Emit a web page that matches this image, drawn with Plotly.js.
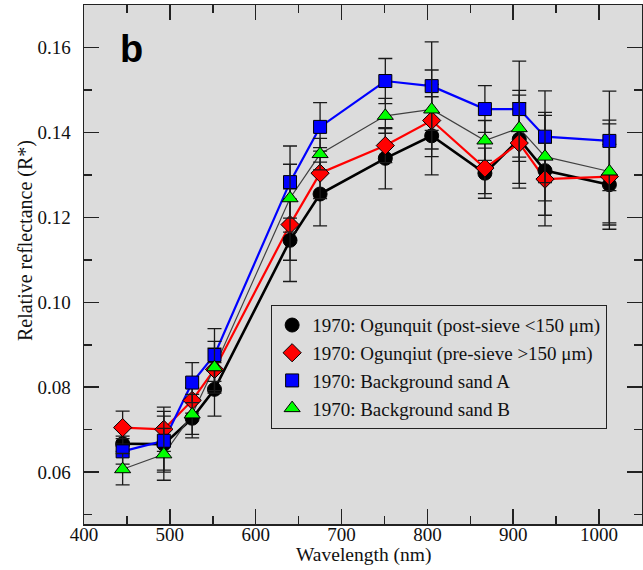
<!DOCTYPE html>
<html>
<head>
<meta charset="utf-8">
<script src="https://cdn.plot.ly/plotly-3.0.1.min.js"></script>
<style>html,body{margin:0;padding:0;background:#fff;}#chart{width:643px;height:570px;}</style>
</head>
<body>
<div id="chart"></div>
<script>
// Wavelengths (nm)
const wavelength = [445, 493, 526, 552, 640, 675, 751, 805, 867, 907, 937, 1012];

// Series values (relative reflectance R*) and symmetric errors
const postSieve    = [0.0667, 0.0666, 0.0727, 0.0795, 0.1146, 0.1255, 0.1339, 0.1392, 0.1304, 0.1384, 0.1310, 0.1277];
const postSieveErr = [0.0018, 0.0066, 0.0046, 0.0063, 0.0097, 0.0075, 0.0072, 0.0092, 0.0059, 0.0115, 0.0130, 0.0095];

const preSieve     = [0.0705, 0.0701, 0.0769, 0.0842, 0.1183, 0.1304, 0.1369, 0.1428, 0.1316, 0.1375, 0.1290, 0.1296];
const preSieveErr  = [0.0039, 0.0052, 0.0030, 0.0050, 0.0084, 0.0060, 0.0040, 0.0085, 0.0060, 0.0095, 0.0085, 0.0124];

const sandA        = [0.0649, 0.0674, 0.0811, 0.0876, 0.1283, 0.1413, 0.1521, 0.1509, 0.1455, 0.1455, 0.1390, 0.1380];
const sandAErr     = [0.0030, 0.0069, 0.0047, 0.0062, 0.0085, 0.0057, 0.0053, 0.0104, 0.0055, 0.0113, 0.0108, 0.0117];

const sandB        = [0.0607, 0.0642, 0.0736, 0.0847, 0.1245, 0.1349, 0.1439, 0.1454, 0.1381, 0.1410, 0.1343, 0.1308];
const sandBErr     = [0.0037, 0.0061, 0.0047, 0.0061, 0.0080, 0.0037, 0.0041, 0.0093, 0.0047, 0.0078, 0.0104, 0.0121];

const seriesNames = [
  "1970: Ogunquit (post-sieve <150 μm)",
  "1970: Ogunqiut (pre-sieve >150 μm)",
  "1970: Background sand A",
  "1970: Background sand B"
];
const xTickVals = [400, 500, 600, 700, 800, 900, 1000];
const yTickVals = [0.06, 0.08, 0.10, 0.12, 0.14, 0.16];

const series = [
  {y: postSieve, e: postSieveErr, name: seriesNames[0], lc: "#000000", lw: 2.6, sym: "circle", fill: "#000000", size: 14},
  {y: preSieve,  e: preSieveErr,  name: seriesNames[1], lc: "#ff0000", lw: 2.2, sym: "diamond", fill: "#ff0000", size: 14},
  {y: sandA,     e: sandAErr,     name: seriesNames[2], lc: "#0000ff", lw: 2.2, sym: "square", fill: "#0000ff", size: 13},
  {y: sandB,     e: sandBErr,     name: seriesNames[3], lc: "#404040", lw: 1.2, sym: "triangle-up", fill: "#00ff00", size: 14}
];

const traces = [];
series.forEach(s => {
  traces.push({
    x: wavelength, y: s.y, type: "scatter", mode: "lines",
    line: {color: s.lc, width: s.lw}, showlegend: false, hoverinfo: "skip"
  });
});
series.forEach(s => {
  traces.push({
    x: wavelength, y: s.y, type: "scatter", mode: "markers", name: s.name,
    marker: {symbol: s.sym, color: s.fill, size: s.size, line: {color: "#000", width: 1}},
    error_y: {type: "data", array: s.e, visible: true, color: "#1a1a1a", thickness: 1.3, width: 7}
  });
});

const SERIF = "Liberation Serif, serif";

const layout = {
  width: 643, height: 570,
  margin: {l: 84, r: 1, t: 5, b: 46},
  paper_bgcolor: "#ffffff", plot_bgcolor: "#dcdcdc",
  font: {family: SERIF, color: "#111"},
  showlegend: true,
  xaxis: {
    showline: true, mirror: "ticks", linecolor: "#222", linewidth: 1.5,
    ticks: "inside", tickcolor: "#222", tickwidth: 1.5, ticklen: 15,
    showgrid: false, zeroline: false,
    tickfont: {family: SERIF, size: 19, color: "#111"},
    range: [400, 1050], tickmode: "array", tickvals: xTickVals,
    ticktext: xTickVals.map(String), ticklabelstandoff: -7,
    minor: {dtick: 50, tick0: 400, ticks: "inside", ticklen: 8, tickcolor: "#222", tickwidth: 1.5, showgrid: false}
  },
  yaxis: {
    showline: true, mirror: "ticks", linecolor: "#222", linewidth: 1.5,
    ticks: "inside", tickcolor: "#222", tickwidth: 1.5, ticklen: 15,
    showgrid: false, zeroline: false,
    tickfont: {family: SERIF, size: 19, color: "#111"},
    range: [0.0478, 0.17], tickmode: "array", tickvals: yTickVals,
    ticktext: yTickVals.map(v => v.toFixed(2)), ticklabelstandoff: 8,
    minor: {dtick: 0.01, tick0: 0.05, ticks: "inside", ticklen: 8, tickcolor: "#222", tickwidth: 1.5, showgrid: false}
  },
  legend: {
    x: 0.335, y: 0.422, xanchor: "left", yanchor: "top",
    bgcolor: "#dcdcdc", bordercolor: "#222", borderwidth: 1.2,
    font: {family: SERIF, size: 19, color: "#111"},
    tracegroupgap: 0, itemwidth: 30
  },
  annotations: [
    {text: "<b>b</b>", xref: "paper", yref: "paper", x: 0.061, y: 0.915, xanchor: "left", yanchor: "middle",
     showarrow: false, font: {family: "Liberation Sans, sans-serif", size: 38, color: "#000"}},
    {text: "Relative reflectance (R*)", xref: "paper", yref: "paper", x: -0.105, y: 0.546, xanchor: "center", yanchor: "middle",
     textangle: -90, showarrow: false, font: {family: SERIF, size: 20, color: "#111"}},
    {text: "Wavelength (nm)", xref: "paper", yref: "paper", x: 0.5, y: -0.059, xanchor: "center", yanchor: "middle",
     showarrow: false, font: {family: SERIF, size: 19.5, color: "#111"}}
  ]
};

Plotly.newPlot("chart", traces, layout, {displayModeBar: false, staticPlot: true});
</script>
</body>
</html>
